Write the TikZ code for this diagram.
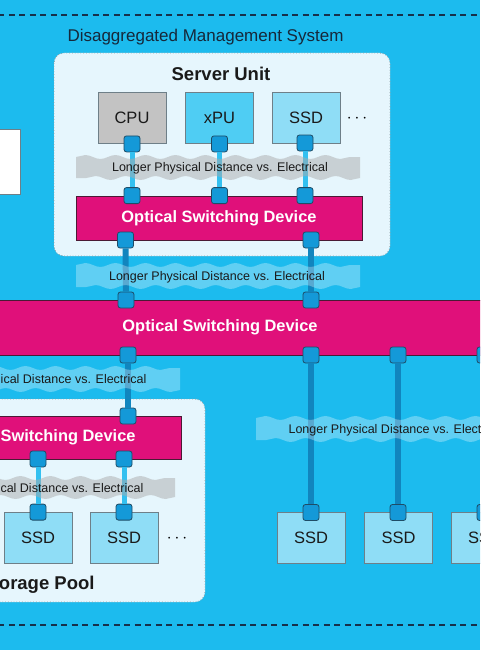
\documentclass[tikz,border=0pt]{standalone}
\usepackage{fontspec}
\setmainfont{Liberation Sans}
\usetikzlibrary{decorations.pathmorphing}

\definecolor{skyback}{HTML}{1CBBEE}
\definecolor{poolfill}{HTML}{E6F6FD}
\definecolor{pooledge}{HTML}{8A9CA4}
\definecolor{boxedge}{HTML}{6E7F88}
\definecolor{cpugrey}{HTML}{C3C3C3}
\definecolor{xpublue}{HTML}{4FCDF3}
\definecolor{ssdblue}{HTML}{8FDDF6}
\definecolor{portblue}{HTML}{1499D8}
\definecolor{portedge}{HTML}{1F4C66}
\definecolor{osdpink}{HTML}{E0107A}
\definecolor{osdedge}{HTML}{4A1A34}
\definecolor{linklight}{HTML}{33C0F0}
\definecolor{linkdark}{HTML}{1185BE}
\definecolor{textdark}{HTML}{1A1A1A}
\definecolor{titlenavy}{HTML}{16283A}
\definecolor{rulenavy}{HTML}{17304A}

\begin{document}
\begin{tikzpicture}[x=1pt,y=-1pt,
    unit/.style={draw=boxedge, line width=0.8pt, minimum width=68pt, minimum height=51pt,
      font=\fontsize{16.5}{18}\selectfont, text=textdark},
    port/.style={draw=portedge, fill=portblue, rounded corners=2.5pt, minimum size=16pt,
      inner sep=0pt, line width=0.8pt},
    osd/.style={draw=osdedge, fill=osdpink, text=white, inner sep=0pt, line width=0.8pt,
      font=\bfseries\fontsize{16.4}{18}\selectfont},
    pool/.style={fill=poolfill, draw=pooledge, dotted, rounded corners=10pt, line width=0.8pt},
    shortlink/.style={draw=linklight, line width=5pt},
    longlink/.style={draw=linkdark, line width=6pt},
    wavy/.style={decoration={snake, amplitude=2pt, segment length=30pt}},
    lag/.style={font=\fontsize{12.5}{14}\selectfont, text=textdark},
    heading/.style={font=\bfseries\fontsize{18.5}{20}\selectfont, text=textdark}
  ]
  \useasboundingbox (0,0) rectangle (480,650);
  \clip (0,0) rectangle (480,650);
  \fill[skyback] (0,0) rectangle (480,650);

  % dashed frame of the system
  \draw[rulenavy, line width=1.3pt, dash pattern=on 6pt off 4.5pt] (-2,15) -- (482,15);
  \draw[rulenavy, line width=1.3pt, dash pattern=on 6pt off 4.5pt] (-2,625) -- (482,625);
  \node[font=\fontsize{17}{19}\selectfont, text=titlenavy] (system) at (205.5,37.5) {Disaggregated Management System};

  % box at the left edge
  \draw[fill=white, draw=boxedge, line width=0.8pt] (-40,129) rectangle (20,194);

  % server unit
  \draw[pool] (54,53) rectangle (390,256);
  \node[heading] (server) at (221,73.5) {Server Unit};
  \node[unit, fill=cpugrey] (cpu) at (132,118) {CPU};
  \node[unit, fill=xpublue] (xpu) at (219.5,118) {xPU};
  \node[unit, fill=ssdblue] (ssd) at (306,118) {SSD};
  \node[font=\fontsize{16.5}{18}\selectfont] (srvdots) at (357,118.5) {$\cdots$};
  \node[osd, minimum width=286pt, minimum height=44pt] (srvosd) at (219,218) {Optical Switching Device};

  % storage pool
  \draw[pool] (-131,399) rectangle (205,602);
  \node[osd, minimum width=286pt, minimum height=43pt] (poolosd) at (38,437.5) {Optical Switching Device};
  \node[unit, fill=ssdblue] (poolssdA) at (38,538) {SSD};
  \node[unit, fill=ssdblue] (poolssdB) at (124,538) {SSD};
  \node[font=\fontsize{16.5}{18}\selectfont] (pooldots) at (177,538.5) {$\cdots$};
  \node[heading] (pool) at (37.5,584.5) {Storage Pool};

  % core switch and remote drives
  \node[osd, minimum width=840pt, minimum height=55pt] (coreosd) at (220,327.5) {Optical Switching Device};
  \node[unit, fill=ssdblue] (farssdA) at (311,538) {SSD};
  \node[unit, fill=ssdblue] (farssdB) at (398.5,538) {SSD};
  \node[unit, fill=ssdblue] (farssdC) at (485,538) {SSD};

  % ports
  \node[port] (cpuport) at (cpu.south) {};
  \node[port] (xpuport) at (xpu.south) {};
  \node[port] (ssdport) at (305,143) {};
  \node[port] (srvinA) at (cpuport |- srvosd.north) {};
  \node[port] (srvinB) at (xpuport |- srvosd.north) {};
  \node[port] (srvinC) at (ssdport |- srvosd.north) {};
  \node[port] (srvoutA) at (125.5,240) {};
  \node[port] (srvoutB) at (311,240) {};
  \node[port] (coreinA) at (126,300) {};
  \node[port] (coreinB) at (311,300) {};
  \node[port] (coreoutA) at (128,355) {};
  \node[port] (coreoutB) at (311,355) {};
  \node[port] (coreoutC) at (398,355) {};
  \node[port] (coreoutD) at (485,355) {};
  \node[port] (poolin) at (128,416) {};
  \node[port] (pooloutA) at (38,459) {};
  \node[port] (pooloutB) at (124,459) {};
  \node[port] (poolssdportA) at (poolssdA.north) {};
  \node[port] (poolssdportB) at (poolssdB.north) {};
  \node[port] (farportA) at (311,512.5) {};
  \node[port] (farportB) at (398,512.5) {};
  \node[port] (farportC) at (485,512.5) {};

  % links
  \draw[shortlink] (cpuport) -- (srvinA);
  \draw[shortlink] (xpuport) -- (srvinB);
  \draw[shortlink] (ssdport) -- (srvinC);
  \draw[longlink] (srvoutA) -- (coreinA);
  \draw[longlink] (srvoutB) -- (coreinB);
  \draw[longlink] (coreoutA) -- (poolin);
  \draw[longlink] (coreoutB) -- (farportA);
  \draw[longlink] (coreoutC) -- (farportB);
  \draw[longlink] (coreoutD) -- (farportC);
  \draw[shortlink] (pooloutA) -- (poolssdportA);
  \draw[shortlink] (pooloutB) -- (poolssdportB);

  % distance bands
  \fill[gray!65, opacity=0.5, wavy] (76,157) decorate {-- (360,157)} -- (360,178) decorate {-- (76,178)} -- cycle;
  \node[lag] (lagsrv) at (220,168.5) {Longer Physical Distance vs. Electrical};
  \fill[white, opacity=0.3, wavy] (76,265) decorate {-- (360,265)} -- (360,287) decorate {-- (76,287)} -- cycle;
  \node[lag] (lagup) at (217,277) {Longer Physical Distance vs. Electrical};
  \fill[white, opacity=0.3, wavy] (-104,368) decorate {-- (180,368)} -- (180,390) decorate {-- (-104,390)} -- cycle;
  \node[lag] (lagdown) at (38.5,380) {Longer Physical Distance vs. Electrical};
  \fill[gray!65, opacity=0.5, wavy] (-109,478) decorate {-- (175,478)} -- (175,497) decorate {-- (-109,497)} -- cycle;
  \node[lag] (lagpool) at (35.5,489) {Longer Physical Distance vs. Electrical};
  \fill[white, opacity=0.3, wavy] (256,418) decorate {-- (540,418)} -- (540,440) decorate {-- (256,440)} -- cycle;
  \node[lag] (lagfar) at (396.5,430) {Longer Physical Distance vs. Electrical};
\end{tikzpicture}
\end{document}
